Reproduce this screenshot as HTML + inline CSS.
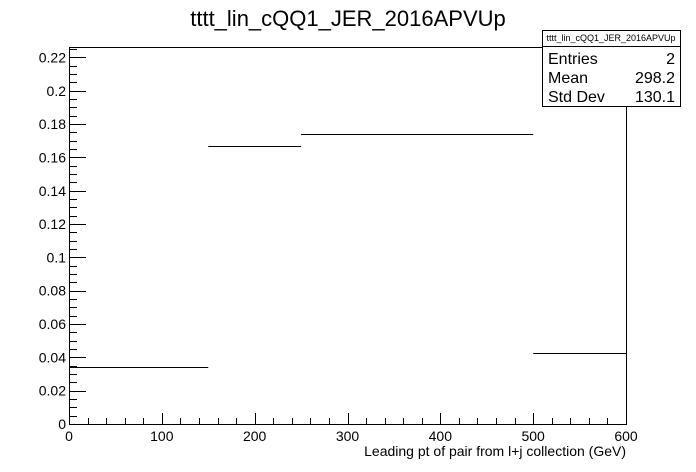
<!DOCTYPE html>
<html><head><meta charset="utf-8"><style>
body{margin:0;background:#fff;}
svg{display:block;font-family:"Liberation Sans",sans-serif;}
</style></head><body>
<svg id="c" width="696" height="472">
<text x="348" y="26" font-size="22" text-anchor="middle">tttt_lin_cQQ1_JER_2016APVUp</text>
<g id="axes"></g>
<g id="bars"></g>
<g>
<rect x="542.5" y="30.5" width="138" height="76" fill="#fff" stroke="#000" stroke-width="1"/>
<line x1="542" y1="46.5" x2="681" y2="46.5" stroke="#000"/>
<text x="611" y="41" font-size="9" text-anchor="middle">tttt_lin_cQQ1_JER_2016APVUp</text>
<text x="548" y="64" font-size="16">Entries</text>
<text x="675" y="64" font-size="16" text-anchor="end">2</text>
<text x="548" y="83" font-size="16">Mean</text>
<text x="675" y="83" font-size="16" text-anchor="end">298.2</text>
<text x="548" y="102" font-size="16">Std Dev</text>
<text x="675" y="102" font-size="16" text-anchor="end">130.1</text>
</g>
<text x="626" y="456" font-size="14" text-anchor="end">Leading pt of pair from l+j collection (GeV)</text>
</svg>
<script>
const binEdges=[0,150,250,500,600];
const binValues=[0.0343,0.1668,0.1740,0.0428];
const xTicks=[0,100,200,300,400,500,600];
const yTicks=[0,0.02,0.04,0.06,0.08,0.1,0.12,0.14,0.16,0.18,0.2,0.22];
const yTickLabels=["0","0.02","0.04","0.06","0.08","0.1","0.12","0.14","0.16","0.18","0.2","0.22"];
const L=69,R=626,T=47,B=424,XMAX=600,YMAX=0.2263;
const sx=v=>L+v/XMAX*(R-L), sy=v=>B-v/YMAX*(B-T);
const NS="http://www.w3.org/2000/svg";
const ax=document.getElementById('axes'), bars=document.getElementById('bars');
function ln(p,x1,y1,x2,y2){const e=document.createElementNS(NS,'line');e.setAttribute('x1',x1);e.setAttribute('y1',y1);e.setAttribute('x2',x2);e.setAttribute('y2',y2);e.setAttribute('stroke','#000');e.setAttribute('stroke-width','1');p.appendChild(e);return e;}
function tx(p,x,y,s,a){const e=document.createElementNS(NS,'text');e.setAttribute('x',x);e.setAttribute('y',y);e.setAttribute('font-size','14');e.setAttribute('text-anchor',a);e.textContent=s;p.appendChild(e);return e;}
const fr=document.createElementNS(NS,'rect');
fr.setAttribute('x',L+0.5);fr.setAttribute('y',T+0.5);fr.setAttribute('width',R-L);fr.setAttribute('height',B-T);fr.setAttribute('fill','none');fr.setAttribute('stroke','#000');


ax.appendChild(fr);
for(let v=0;v<=XMAX+1e-9;v+=20){const x=Math.round(sx(v))+0.5;const maj=Math.abs(v%100)<1e-6;ln(ax,x,B,x,B-(maj?11:6));}
xTicks.forEach(v=>{const t=tx(ax,sx(v),B+17,String(v),'middle');

});
for(let i=0;i*0.005<=YMAX;i++){const v=i*0.005;const y=Math.round(sy(v))+0.5;ln(ax,L,y,L+(i%4===0?17:8),y);}
yTicks.forEach((v,i)=>{const t=tx(ax,L-3,sy(v)+5,yTickLabels[i],'end');

});
binValues.forEach((v,i)=>{const y=Math.round(sy(v))+0.5;const e=ln(bars,sx(binEdges[i]),y,sx(binEdges[i+1]),y);

});
</script>
</body></html>
